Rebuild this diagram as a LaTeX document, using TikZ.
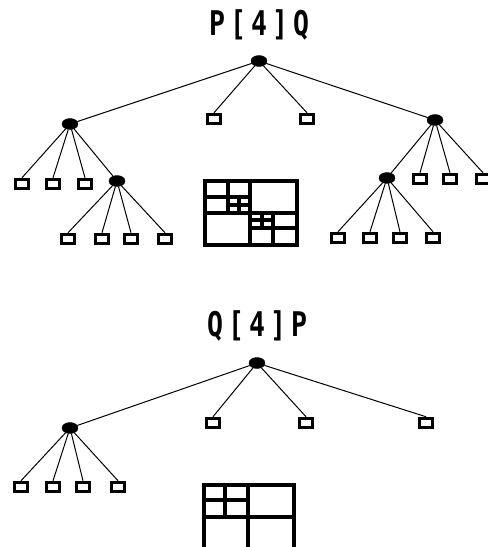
\documentclass[tikz,border=0pt]{standalone}
\usepackage{fontspec}
\newfontfamily\titlefont{DejaVu Sans Mono}[BoldFont={DejaVu Sans Mono Bold}]
\usetikzlibrary{shapes.geometric}
% one title character in a fixed-pitch, slightly condensed cell
\newcommand\tch[1]{\makebox[21pt]{\scalebox{0.78}[1]{#1}}}
\begin{document}
\begin{tikzpicture}[x=1pt,y=-1pt,
  inner/.style={ellipse,fill=black,draw=black,minimum width=16pt,minimum height=11pt,inner sep=0pt},
  leaf/.style={rectangle,draw=black,line width=3pt,fill=white,minimum width=12.5pt,minimum height=9.5pt,inner sep=0pt},
  edge/.style={line width=1pt},
  title/.style={font=\titlefont\bfseries\fontsize{34}{34}\selectfont,inner sep=0pt},
  quad/.style={line width=3.5pt}]
\useasboundingbox (0,0) rectangle (488,547);
\begin{scope}
\clip (0,0) rectangle (488,547);

% ---------- P[4]Q ----------
\node[title] (t1) at (259,25) {\tch{P}\tch{[}\tch{4}\tch{]}\tch{Q}};

\node[leaf] (m1) at (214,119) {};
\node[leaf] (m2) at (307,119) {};
\node[leaf] (l1) at (22,184) {};
\node[leaf] (l2) at (53,184) {};
\node[leaf] (l3) at (85,184) {};
\node[leaf] (ln1) at (68,239) {};
\node[leaf] (ln2) at (102,239) {};
\node[leaf] (ln3) at (131,239) {};
\node[leaf] (ln4) at (165,239) {};
\node[leaf] (r2) at (420,179) {};
\node[leaf] (r3) at (450,179) {};
\node[leaf] (r4) at (483,179) {};
\node[leaf] (rn1) at (338,238) {};
\node[leaf] (rn2) at (370,238) {};
\node[leaf] (rn3) at (400,238) {};
\node[leaf] (rn4) at (433,238) {};

% ---------- Q[4]P ----------
\node[title] (t2) at (257,326) {\tch{Q}\tch{[}\tch{4}\tch{]}\tch{P}};

\node[leaf] (b1) at (213,423) {};
\node[leaf] (b2) at (306,423) {};
\node[leaf] (b3) at (426,423) {};
\node[leaf] (bl1) at (21,487) {};
\node[leaf] (bl2) at (53,487) {};
\node[leaf] (bl3) at (83,487) {};
\node[leaf] (bl4) at (118,487) {};

% inner nodes
\node[inner] (A) at (259,61) {};
\node[inner] (L) at (70,124) {};
\node[inner] (R) at (435,120) {};
\node[inner] (LN) at (117,181) {};
\node[inner] (RN) at (387,178) {};
\node[inner] (B) at (257,363) {};
\node[inner] (BL) at (70,428) {};

% connectors between inner nodes
\foreach \p/\c in {A/L,A/R,L/LN,R/RN,B/BL}
  \draw[edge] (\p) -- (\c);
% connectors from inner nodes down to the leaves
\foreach \p/\c in {A/m1,A/m2,L/l1,L/l2,L/l3,LN/ln1,LN/ln2,LN/ln3,LN/ln4,
                   R/r2,R/r3,R/r4,RN/rn1,RN/rn2,RN/rn3,RN/rn4,
                   B/b1,B/b2,B/b3,BL/bl1,BL/bl2,BL/bl3,BL/bl4}
  \draw[edge] (\p) -- (\c.north);

% ---------- quadtree partitions ----------
\draw[quad] (205,181) rectangle (297,245);
\draw[quad] (250,181) -- (250,245) (205,213) -- (297,213);
\draw[quad] (228,181) -- (228,213) (205,197) -- (250,197);
\draw[quad] (239,197) -- (239,213) (228,205) -- (250,205);
\draw[quad] (273,213) -- (273,245) (250,228) -- (297,228);
\draw[quad] (262,213) -- (262,228) (250,220) -- (273,220);

\draw[quad] (204,485) rectangle (294,549);
\draw[quad] (248,485) -- (248,549) (204,517) -- (294,517);
\draw[quad] (225,485) -- (225,517) (204,500) -- (248,500);
\end{scope}
\end{tikzpicture}
\end{document}
